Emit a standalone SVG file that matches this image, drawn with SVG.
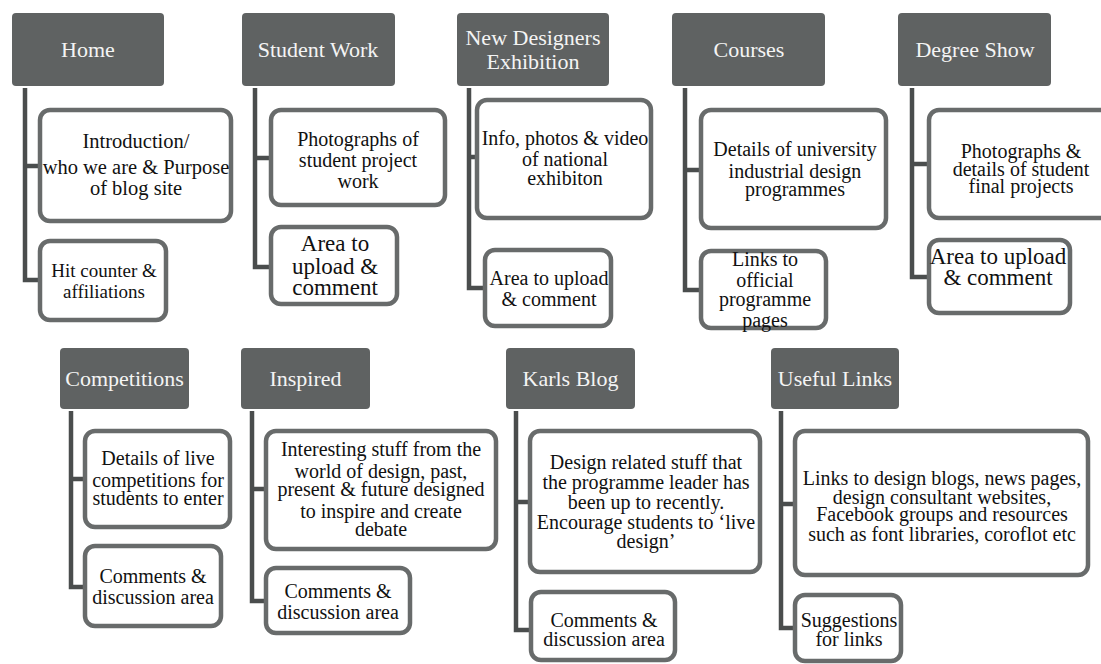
<svg xmlns="http://www.w3.org/2000/svg" width="1101" height="664" viewBox="0 0 1101 664">
<style>
.hd{fill:#5f6262;}
.ht{fill:#f4f4f4;font-family:"Liberation Serif",serif;font-size:22px;text-anchor:middle;}
.bx{fill:#ffffff;stroke:#686b6b;stroke-width:4.5;}
.t{fill:#111111;font-family:"Liberation Serif",serif;font-size:20px;text-anchor:middle;}
.ln{fill:none;stroke:#4a4d4d;stroke-width:4.5;stroke-linejoin:miter;}
</style>
<rect width="1101" height="664" fill="#ffffff"/>
<g id="connectors">
<path class="ln" d="M25 88V280H40M25 166H40"/>
<path class="ln" d="M255 88V267H271M255 158H271"/>
<path class="ln" d="M469 88V288H485M469 157H477"/>
<path class="ln" d="M685 88V290H701M685 170H701"/>
<path class="ln" d="M912 88V277H929M912 164H929"/>
<path class="ln" d="M71 411V587H85M71 479H85"/>
<path class="ln" d="M252 411V601H266M252 489H266"/>
<path class="ln" d="M516 411V630H531M516 502H530"/>
<path class="ln" d="M781 411V628H795M781 504H795"/>
</g>
<g id="home">
<rect class="hd" x="12" y="13" width="152" height="73" rx="4"/>
<text class="ht" x="88" y="57">Home</text>
</g>
<g id="home-intro">
<rect class="bx" x="40" y="110" width="191" height="111" rx="10"/>
<text class="t" x="136" y="148" style="font-size:20.5px">Introduction/</text>
<text class="t" x="136" y="174" style="font-size:20.5px">who we are &amp; Purpose</text>
<text class="t" x="136" y="195" style="font-size:20.5px">of blog site</text>
</g>
<g id="home-hit">
<rect class="bx" x="40" y="241" width="126" height="79" rx="10"/>
<text class="t" x="104" y="277" style="font-size:19px">Hit counter &amp;</text>
<text class="t" x="104" y="298" style="font-size:19px">affiliations</text>
</g>
<g id="student-work">
<rect class="hd" x="242" y="13" width="153" height="73" rx="4"/>
<text class="ht" x="318" y="57">Student Work</text>
</g>
<g id="student-photos">
<rect class="bx" x="271" y="110" width="174" height="95" rx="10"/>
<text class="t" x="358" y="146">Photographs of</text>
<text class="t" x="358" y="167">student project</text>
<text class="t" x="358" y="188">work</text>
</g>
<g id="student-area">
<rect class="bx" x="271" y="227" width="126" height="77" rx="10"/>
<text class="t" x="335" y="251" style="font-size:23px">Area to</text>
<text class="t" x="335" y="274" style="font-size:23px">upload &amp;</text>
<text class="t" x="335" y="295" style="font-size:23px">comment</text>
</g>
<g id="new-designers">
<rect class="hd" x="457" y="13" width="152" height="73" rx="4"/>
<text class="ht" x="533" y="45">New Designers</text>
<text class="ht" x="533" y="69">Exhibition</text>
</g>
<g id="nd-info">
<rect class="bx" x="477" y="100" width="174" height="118" rx="10"/>
<text class="t" x="565" y="145">Info, photos &amp; video</text>
<text class="t" x="565" y="166">of national</text>
<text class="t" x="565" y="185">exhibiton</text>
</g>
<g id="nd-area">
<rect class="bx" x="485" y="250" width="126" height="76" rx="10"/>
<text class="t" x="549" y="285">Area to upload</text>
<text class="t" x="549" y="306">&amp; comment</text>
</g>
<g id="courses">
<rect class="hd" x="672" y="13" width="153" height="73" rx="4"/>
<text class="ht" x="749" y="57">Courses</text>
</g>
<g id="courses-details">
<rect class="bx" x="701" y="110" width="185" height="118" rx="10"/>
<text class="t" x="795" y="156">Details of university</text>
<text class="t" x="795" y="178">industrial design</text>
<text class="t" x="795" y="196">programmes</text>
</g>
<g id="courses-links">
<rect class="bx" x="701" y="251" width="125" height="77" rx="10"/>
<text class="t" x="765" y="266">Links to</text>
<text class="t" x="765" y="287">official</text>
<text class="t" x="765" y="306">programme</text>
<text class="t" x="765" y="327">pages</text>
</g>
<g id="degree-show">
<rect class="hd" x="898" y="13" width="153" height="73" rx="4"/>
<text class="ht" x="975" y="57">Degree Show</text>
</g>
<g id="degree-photos">
<rect class="bx" x="929" y="110" width="252" height="108" rx="10"/>
<text class="t" x="1021" y="158">Photographs &amp;</text>
<text class="t" x="1021" y="176">details of student</text>
<text class="t" x="1021" y="193">final projects</text>
</g>
<g id="degree-area">
<rect class="bx" x="929" y="240" width="141" height="73" rx="10"/>
<text class="t" x="998" y="264" style="font-size:23px">Area to upload</text>
<text class="t" x="998" y="285" style="font-size:23px">&amp; comment</text>
</g>
<g id="competitions">
<rect class="hd" x="60" y="348" width="129" height="61" rx="4"/>
<text class="ht" x="124.5" y="386">Competitions</text>
</g>
<g id="comp-details">
<rect class="bx" x="85" y="431" width="145" height="96" rx="10"/>
<text class="t" x="158" y="465">Details of live</text>
<text class="t" x="158" y="487">competitions for</text>
<text class="t" x="158" y="505">students to enter</text>
</g>
<g id="comp-comments">
<rect class="bx" x="85" y="546" width="136" height="80" rx="10"/>
<text class="t" x="153" y="583">Comments &amp;</text>
<text class="t" x="153" y="604">discussion area</text>
</g>
<g id="inspired">
<rect class="hd" x="241" y="348" width="129" height="61" rx="4"/>
<text class="ht" x="305.5" y="386">Inspired</text>
</g>
<g id="insp-details">
<rect class="bx" x="266" y="431" width="230" height="118" rx="10"/>
<text class="t" x="381" y="456">Interesting stuff from the</text>
<text class="t" x="381" y="478">world of design, past,</text>
<text class="t" x="381" y="496">present &amp; future designed</text>
<text class="t" x="381" y="518">to inspire and create</text>
<text class="t" x="381" y="536">debate</text>
</g>
<g id="insp-comments">
<rect class="bx" x="266" y="568" width="144" height="65" rx="10"/>
<text class="t" x="338" y="598">Comments &amp;</text>
<text class="t" x="338" y="619">discussion area</text>
</g>
<g id="karls-blog">
<rect class="hd" x="506" y="348" width="129" height="61" rx="4"/>
<text class="ht" x="570.5" y="386">Karls Blog</text>
</g>
<g id="karls-details">
<rect class="bx" x="530" y="431" width="230" height="141" rx="10"/>
<text class="t" x="646" y="469">Design related stuff that</text>
<text class="t" x="646" y="489">the programme leader has</text>
<text class="t" x="646" y="509">been up to recently.</text>
<text class="t" x="646" y="529">Encourage students to ‘live</text>
<text class="t" x="646" y="548">design’</text>
</g>
<g id="karls-comments">
<rect class="bx" x="531" y="592" width="144" height="68" rx="10"/>
<text class="t" x="604" y="627">Comments &amp;</text>
<text class="t" x="604" y="646">discussion area</text>
</g>
<g id="useful-links">
<rect class="hd" x="771" y="348" width="128" height="61" rx="4"/>
<text class="ht" x="835" y="386">Useful Links</text>
</g>
<g id="links-details">
<rect class="bx" x="795" y="431" width="293" height="144" rx="10"/>
<text class="t" x="942" y="485">Links to design blogs, news pages,</text>
<text class="t" x="942" y="504">design consultant websites,</text>
<text class="t" x="942" y="521">Facebook groups  and resources</text>
<text class="t" x="942" y="541">such as font libraries, coroflot etc</text>
</g>
<g id="links-suggestions">
<rect class="bx" x="795" y="595" width="106" height="66" rx="10"/>
<text class="t" x="849" y="627">Suggestions</text>
<text class="t" x="849" y="646">for links</text>
</g>
</svg>
